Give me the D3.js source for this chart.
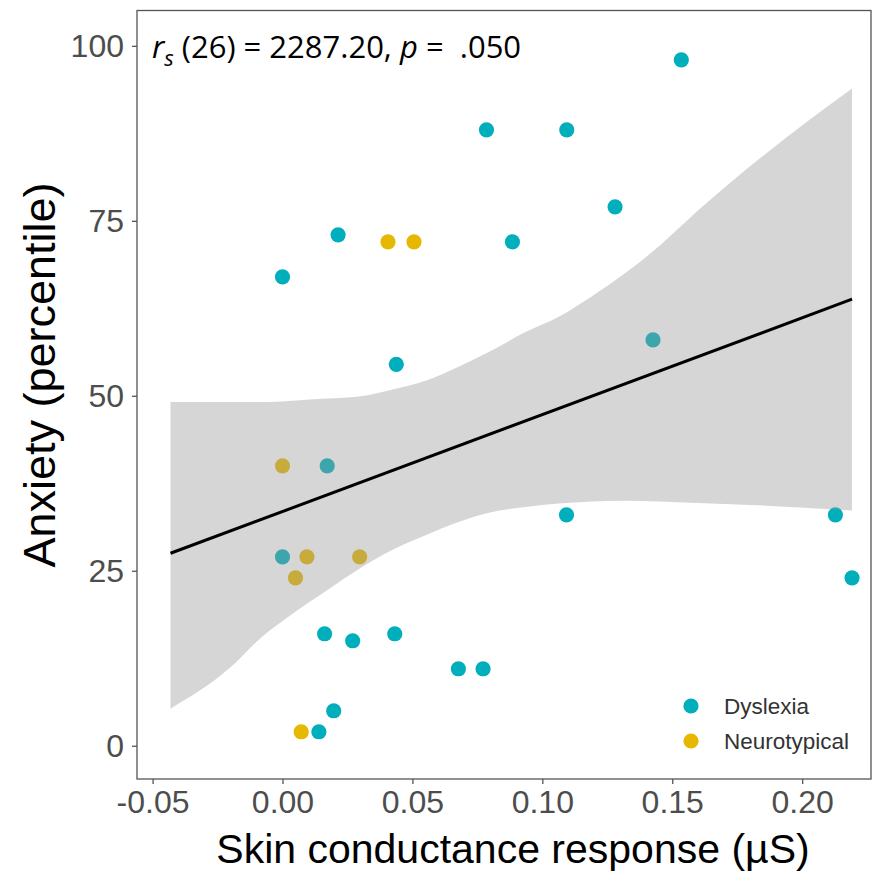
<!DOCTYPE html>
<html>
<head>
<meta charset="utf-8">
<script src="https://cdn.jsdelivr.net/npm/d3@7/dist/d3.min.js"></script>
<style>
  html, body { margin: 0; padding: 0; background: #ffffff; }
  svg { display: block; }
</style>
</head>
<body>
<svg id="chart" width="874" height="875"></svg>
<script>
// Skin conductance response (µS) vs anxiety percentile, by group
const dyslexiaX = [0.1535, 0.0785, 0.1094, 0.1280, 0.0214, 0.0885, 0.0000, 0.1426, 0.0438, 0.0172, 0.0000,
                   0.1093, 0.2128, 0.2192, 0.0162, 0.0270, 0.0432, 0.0677, 0.0772, 0.0197, 0.0140];
const dyslexiaY = [98, 88, 88, 77, 73, 72, 67, 58, 54.5, 40, 27,
                   33, 33, 24, 16, 15, 16, 11, 11, 5, 2];
const neuroX = [0.0406, 0.0506, 0.0000, 0.0094, 0.0297, 0.0050, 0.0072];
const neuroY = [72, 72, 40, 27, 27, 24, 2];

// Linear fit and its 95% confidence band
const lineX = [-0.0431, 0.2192];
const lineY = [27.5, 63.8];
const bandX = [-0.0431, -0.0200, -0.0087, 0.0040, 0.0170, 0.0296, 0.0424, 0.0553, 0.0680,
               0.0807, 0.0935, 0.1063, 0.1190, 0.1318, 0.1450, 0.1600, 0.1860, 0.2192];
const bandUpper = [49.1, 49.1, 49.1, 49.3, 49.6, 49.9, 50.9, 52.2, 54.2,
                   56.5, 59.1, 61.3, 64.2, 67.5, 71.4, 76.5, 84.6, 93.9];
const bandLower = [5.3, 11.2, 15.3, 18.9, 22.2, 25.3, 28.0, 30.1, 32.0,
                   33.4, 34.1, 34.6, 34.9, 35.0, 34.9, 34.7, 34.3, 33.6];

const xTicks = [-0.05, 0.00, 0.05, 0.10, 0.15, 0.20];
const yTicks = [0, 25, 50, 75, 100];
const groups = ["Dyslexia", "Neurotypical"];
const groupColors = ["#00AFBB", "#E7B800"];

const svg = d3.select("#chart");
const panel = { left: 137, right: 871, top: 10.5, bottom: 779 };

const x = d3.scaleLinear().domain([-0.0560, 0.2265]).range([panel.left, panel.right]);
const y = d3.scaleLinear().domain([-4.75, 105.05]).range([panel.bottom, panel.top]);

svg.append("rect").attr("width", 874).attr("height", 875).attr("fill", "#ffffff");

// points
const pts = [];
dyslexiaX.forEach((v, i) => pts.push({ x: v, y: dyslexiaY[i], g: 0 }));
neuroX.forEach((v, i) => pts.push({ x: v, y: neuroY[i], g: 1 }));

svg.append("g").selectAll("circle").data(pts).join("circle")
  .attr("cx", d => x(d.x)).attr("cy", d => y(d.y)).attr("r", 7.6)
  .attr("fill", d => groupColors[d.g]);

// confidence band over the points
const band = bandX.map((v, i) => ({ x: v, lo: bandLower[i], hi: bandUpper[i] }));
svg.append("path").datum(band)
  .attr("d", d3.area().curve(d3.curveMonotoneX)
    .x(d => x(d.x)).y0(d => y(d.lo)).y1(d => y(d.hi)))
  .attr("fill", "#999999").attr("fill-opacity", 0.4);

// fitted line
svg.append("path").datum(lineX.map((v, i) => ({ x: v, y: lineY[i] })))
  .attr("d", d3.line().x(d => x(d.x)).y(d => y(d.y)))
  .attr("fill", "none").attr("stroke", "#000000").attr("stroke-width", 3);

// panel border
svg.append("rect")
  .attr("x", panel.left).attr("y", panel.top)
  .attr("width", panel.right - panel.left).attr("height", panel.bottom - panel.top)
  .attr("fill", "none").attr("stroke", "#555555").attr("stroke-width", 1.3);

// axes
const fmt = d3.format(".2f");
const xAxis = svg.append("g").attr("transform", `translate(0,${panel.bottom})`)
  .call(d3.axisBottom(x).tickValues(xTicks).tickFormat(d => fmt(d).replace("\u2212", "-"))
    .tickSize(5).tickSizeOuter(0).tickPadding(6));
const yAxis = svg.append("g").attr("transform", `translate(${panel.left},0)`)
  .call(d3.axisLeft(y).tickValues(yTicks).tickFormat(d3.format("d")).tickSize(5).tickSizeOuter(0).tickPadding(8));
[xAxis, yAxis].forEach(a => {
  a.select(".domain").remove();
  a.selectAll(".tick line").attr("stroke", "#555555").attr("stroke-width", 1.3);
  a.selectAll(".tick text").attr("fill", "#4D4D4D")
    .style("font-family", "'Liberation Sans', Arial, sans-serif").style("font-size", "32px");
});

// axis titles
svg.append("text").attr("x", 513).attr("y", 863)
  .attr("text-anchor", "middle")
  .style("font-family", "'Liberation Sans', Arial, sans-serif").style("font-size", "41px")
  .attr("fill", "#000000").text("Skin conductance response (\u00B5S)");
svg.append("text")
  .attr("transform", "translate(55,375) rotate(-90)")
  .attr("text-anchor", "middle")
  .style("font-family", "'Liberation Sans', Arial, sans-serif").style("font-size", "45px")
  .attr("fill", "#000000").text("Anxiety (percentile)");

// statistic annotation
const ann = svg.append("text").attr("x", 152).attr("y", 58)
  .style("font-family", "'Open Sans', 'Noto Sans', sans-serif").style("font-size", "31px")
  .attr("fill", "#000000").attr("xml:space", "preserve").style("white-space", "pre");
ann.append("tspan").style("font-style", "italic").text("r");
ann.append("tspan").style("font-style", "italic").style("font-size", "22px").attr("dy", 8).text("s");
ann.append("tspan").attr("dy", -8).text(" (26) = 2287.20, ");
ann.append("tspan").style("font-style", "italic").text("p");
ann.append("tspan").text(" =  .050");

// legend
const legend = svg.append("g").attr("transform", "translate(691,706)");
groups.forEach((g, i) => {
  const row = legend.append("g").attr("transform", `translate(0,${i * 35})`);
  row.append("circle").attr("r", 7.6).attr("fill", groupColors[i]);
  row.append("text").attr("x", 33).attr("y", 8)
    .style("font-family", "'Liberation Sans', Arial, sans-serif").style("font-size", "22.5px")
    .attr("fill", "#333333").text(g);
});
</script>
</body>
</html>
